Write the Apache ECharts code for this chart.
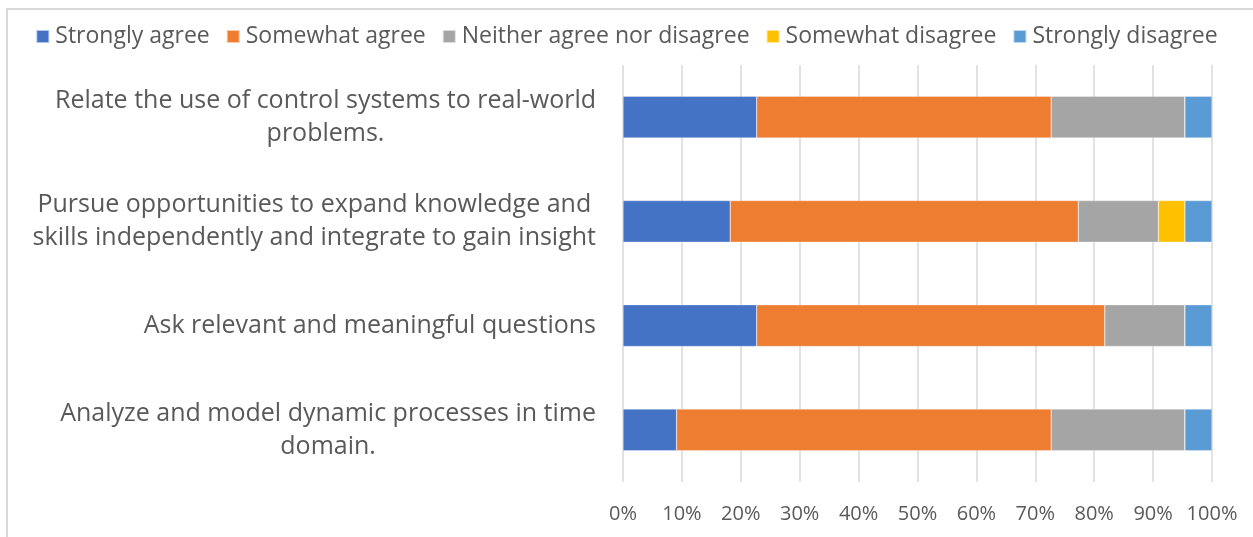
<!DOCTYPE html>
<html>
<head>
<meta charset="utf-8">
<script src="https://cdn.jsdelivr.net/npm/echarts@6/dist/echarts.min.js"></script>
<style>
  html, body { margin: 0; padding: 0; background: #fff; }
  #frame { position: absolute; left: 6px; top: 8px; width: 1300px; height: 600px;
           border-left: 2px solid #d9d9d9; border-top: 2px solid #d9d9d9; box-sizing: border-box; }
  #chart { position: absolute; left: 0; top: 0; width: 1253px; height: 537px; }
</style>
</head>
<body>
<div id="frame"></div>
<div id="chart"></div>
<script>
// Survey statements, listed top to bottom
const statements = [
  'Relate the use of control systems to real-world\nproblems.',
  'Pursue opportunities to expand knowledge and\nskills independently and integrate to gain insight',
  'Ask relevant and meaningful questions',
  'Analyze and model dynamic processes in time\ndomain.'
];

// Share of responses (%) per statement, same order as above
const stronglyAgree    = [22.7, 18.2, 22.7,  9.1];
const somewhatAgree    = [50.0, 59.1, 59.1, 63.6];
const neither          = [22.7, 13.6, 13.6, 22.7];
const somewhatDisagree = [ 0.0,  4.5,  0.0,  0.0];
const stronglyDisagree = [ 4.6,  4.6,  4.6,  4.6];

const seriesNames = ['Strongly agree', 'Somewhat agree', 'Neither agree nor disagree', 'Somewhat disagree', 'Strongly disagree'];
const seriesData = [stronglyAgree, somewhatAgree, neither, somewhatDisagree, stronglyDisagree];
const colors = ['#4472C4', '#ED7D31', '#A5A5A5', '#FFC000', '#5B9BD5'];

const FONT = 'Open Sans';
const TEXT = '#595959';

const chart = echarts.init(document.getElementById('chart'), null, { renderer: 'canvas' });

chart.setOption({
  animation: false,
  color: colors,
  textStyle: { fontFamily: FONT, color: TEXT },
  legend: {
    top: 20,
    left: 'center',
    itemWidth: 13,
    itemHeight: 13,
    itemGap: 16,
    icon: 'rect',
    textStyle: { fontFamily: FONT, fontSize: 23, color: TEXT, padding: [0, 0, 0, 1] },
    data: seriesNames
  },
  grid: { left: 623, right: 41, top: 65, bottom: 55, containLabel: false },
  xAxis: {
    type: 'value',
    min: 0,
    max: 100,
    interval: 10,
    axisLine: { show: false },
    axisTick: { show: false },
    splitLine: { show: true, lineStyle: { color: '#d9d9d9', width: 1.5 } },
    axisLabel: { formatter: '{value}%', fontFamily: FONT, fontSize: 20, color: TEXT, margin: 22 }
  },
  yAxis: {
    type: 'category',
    inverse: true,
    data: statements,
    axisLine: { show: false },
    axisTick: { show: false },
    axisLabel: {
      margin: 27,
      align: 'right',
      formatter: function (v) {
        return v.split('\n').map(function (l) { return '{c|' + l + '}'; }).join('\n');
      },
      rich: {
        c: { align: 'center', fontFamily: FONT, fontSize: 25, color: TEXT, lineHeight: 33 }
      }
    }
  },
  series: seriesData.map(function (d, i) {
    return {
      name: seriesNames[i],
      type: 'bar',
      stack: 'total',
      barCategoryGap: '60%',
      itemStyle: { borderColor: 'rgba(255,255,255,0.6)', borderWidth: 0.5 },
      data: d
    };
  })
});
</script>
</body>
</html>
